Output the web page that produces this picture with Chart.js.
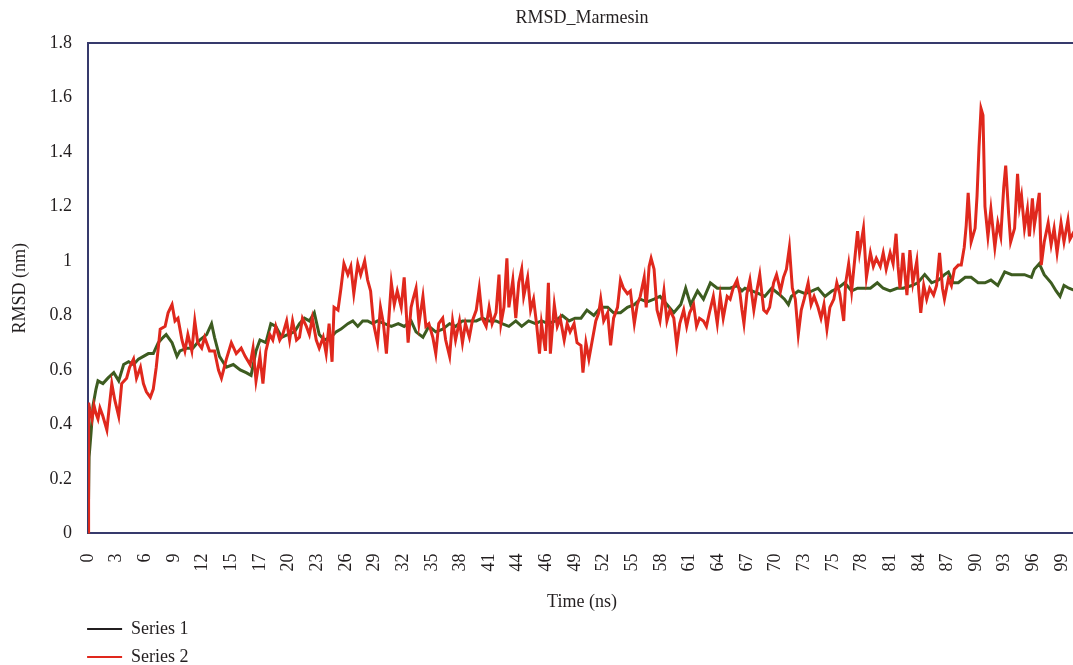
<!DOCTYPE html>
<html>
<head>
<meta charset="utf-8">
<script src="https://cdn.jsdelivr.net/npm/chart.js"></script>
<style>
  html, body { margin: 0; padding: 0; background: #fff; overflow: hidden; }
</style>
</head>
<body>
<canvas id="my-canvas" width="1104" height="676"></canvas>
<script>
// Tick labels of the time axis (one every 2.9 ns)
const tickLabels = ["0","3","6","9","12","15","17","20","23","26","29","32","35","38","41","44","46","49",
  "52","55","58","61","64","67","70","73","75","78","81","84","87","90","93","96","99"]

// Series 1 (green) - time in ns / RMSD in nm
const series1Time = [0,0.1,0.3,0.5,0.8,1.0,1.5,2.0,2.6,3.1,3.6,4.1,4.6,5.1,5.6,6.1,6.6,7.1,7.6,7.9,
  8.5,9.0,9.3,10.0,10.6,11.3,12.0,12.5,12.8,13.3,14.0,14.7,15.4,16.0,16.5,17.0,17.4,18.0,18.5,19.0,
  19.6,20.2,20.9,21.4,21.9,22.4,22.9,23.4,23.9,24.6,25.1,25.6,26.3,26.8,27.3,27.8,28.3,28.8,29.3,30.0,
  30.7,31.4,32.0,32.7,33.2,33.9,34.5,35.2,35.9,36.6,37.2,37.9,38.6,39.3,39.9,40.6,41.3,41.9,42.6,43.3,
  43.9,44.6,45.3,45.9,46.6,47.3,48.0,48.7,49.3,49.9,50.5,51.2,51.9,52.6,53.2,53.9,54.6,55.3,55.9,56.6,
  57.3,57.9,58.6,59.3,60.0,60.5,61.0,61.7,62.3,63.0,63.7,64.3,65.0,65.7,66.2,66.5,67.2,67.9,68.5,69.2,
  69.9,70.5,70.9,71.2,71.9,72.6,73.3,73.9,74.6,75.3,75.9,76.6,77.3,77.9,78.6,79.2,79.9,80.5,81.2,81.9,
  82.5,83.4,84.0,84.7,85.4,86.1,86.7,87.1,87.6,88.1,88.8,89.4,90.1,90.8,91.4,92.1,92.8,93.5,94.1,94.8,
  95.5,95.8,96.3,96.8,97.5,98.0,98.4,98.8,99.3,100]
const series1Rmsd = [0,0.28,0.37,0.47,0.53,0.56,0.55,0.57,0.59,0.56,0.62,0.63,0.62,0.64,0.65,0.66,0.66,0.70,0.72,0.73,
  0.70,0.65,0.67,0.68,0.68,0.71,0.73,0.77,0.72,0.65,0.61,0.62,0.60,0.59,0.58,0.67,0.71,0.70,0.77,0.76,
  0.72,0.73,0.74,0.77,0.79,0.78,0.81,0.73,0.71,0.72,0.74,0.75,0.77,0.78,0.76,0.78,0.78,0.77,0.78,0.77,
  0.76,0.77,0.76,0.78,0.74,0.72,0.76,0.74,0.75,0.77,0.76,0.78,0.78,0.78,0.79,0.78,0.78,0.77,0.76,0.78,
  0.76,0.78,0.77,0.78,0.77,0.78,0.80,0.78,0.79,0.79,0.82,0.80,0.83,0.83,0.81,0.81,0.83,0.84,0.86,0.85,
  0.86,0.87,0.84,0.81,0.84,0.90,0.84,0.89,0.86,0.92,0.90,0.90,0.90,0.91,0.89,0.90,0.89,0.88,0.87,0.90,
  0.88,0.86,0.84,0.87,0.89,0.88,0.89,0.90,0.87,0.89,0.90,0.92,0.89,0.90,0.90,0.90,0.92,0.90,0.89,0.90,
  0.90,0.91,0.92,0.95,0.92,0.93,0.95,0.96,0.92,0.92,0.94,0.94,0.92,0.92,0.93,0.91,0.96,0.95,0.95,0.95,
  0.94,0.97,0.99,0.95,0.92,0.89,0.87,0.91,0.90,0.89]

// Series 2 (red)
const series2Time = [0,0.05,0.2,0.4,0.6,0.8,1.0,1.2,1.5,1.9,2.1,2.4,2.7,3.1,3.4,3.9,4.2,4.6,4.9,5.3,
  5.6,5.9,6.3,6.6,6.9,7.3,7.8,8.1,8.5,8.8,9.1,9.5,9.8,10.1,10.5,10.8,11.1,11.5,11.8,12.3,
  12.8,13.2,13.5,14.0,14.5,15.0,15.5,15.9,16.4,16.7,17.0,17.4,17.7,18.0,18.4,18.7,19.0,19.4,19.7,20.1,
  20.4,20.7,21.1,21.4,21.7,22.1,22.4,22.7,23.1,23.4,23.8,24.1,24.4,24.7,24.9,25.3,25.6,25.9,26.3,26.6,
  26.9,27.3,27.6,28.0,28.3,28.6,28.9,29.3,29.6,29.9,30.2,30.7,31.0,31.3,31.7,32.0,32.4,32.7,32.9,33.2,
  33.5,33.9,34.2,34.5,34.9,35.2,35.5,35.9,36.2,36.6,36.9,37.2,37.6,37.9,38.2,38.6,38.9,39.3,39.6,39.9,
  40.3,40.6,40.9,41.3,41.6,41.8,42.1,42.4,42.6,43.0,43.3,43.6,43.9,44.1,44.5,44.8,45.1,45.4,45.7,45.9,
  46.3,46.6,46.8,47.2,47.5,47.8,48.2,48.5,48.8,49.2,49.5,49.9,50.1,50.4,50.7,51.0,51.4,51.7,51.9,52.2,
  52.6,52.9,53.2,53.6,53.9,54.2,54.6,54.9,55.3,55.6,55.9,56.3,56.5,56.8,57.0,57.3,57.6,57.9,58.3,58.6,
  58.9,59.3,59.6,59.9,60.3,60.6,60.9,61.3,61.6,61.9,62.3,62.6,62.9,63.3,63.7,64.0,64.3,64.7,65.0,65.3,
  65.7,66.0,66.2,66.4,66.7,67.0,67.4,67.7,68.0,68.4,68.7,69.0,69.4,69.7,70.1,70.4,70.7,71.0,71.3,71.6,
  71.9,72.2,72.5,72.9,73.2,73.5,73.9,74.2,74.5,74.8,75.1,75.5,75.8,76.1,76.5,76.7,77.0,77.3,77.6,77.9,
  78.1,78.5,78.8,79.2,79.5,79.8,80.2,80.5,80.8,81.2,81.5,81.8,82.0,82.2,82.5,82.9,83.2,83.5,83.9,84.1,
  84.3,84.6,84.9,85.2,85.6,85.9,86.2,86.5,86.7,87.1,87.4,87.7,88.1,88.4,88.7,88.9,89.1,89.4,89.8,90.0,
  90.2,90.4,90.6,90.8,91.1,91.4,91.8,92.1,92.4,92.7,92.9,93.2,93.4,93.8,94.1,94.3,94.5,94.8,95.1,95.3,
  95.6,95.8,96.1,96.3,96.5,96.8,97.2,97.5,97.8,98.1,98.5,98.8,99.2,99.4,100]
const series2Rmsd = [0,0.48,0.45,0.42,0.47,0.44,0.42,0.46,0.43,0.38,0.45,0.55,0.49,0.43,0.55,0.57,0.61,0.64,0.57,0.61,
  0.55,0.52,0.50,0.53,0.61,0.75,0.76,0.81,0.84,0.78,0.79,0.71,0.67,0.73,0.67,0.78,0.70,0.68,0.72,0.67,
  0.67,0.60,0.57,0.64,0.70,0.66,0.68,0.65,0.62,0.68,0.56,0.65,0.55,0.67,0.73,0.71,0.76,0.71,0.73,0.78,
  0.71,0.78,0.71,0.72,0.79,0.76,0.73,0.79,0.71,0.68,0.72,0.66,0.77,0.63,0.83,0.82,0.90,0.99,0.95,0.98,
  0.88,0.99,0.95,1.00,0.93,0.89,0.77,0.70,0.83,0.77,0.66,0.92,0.84,0.89,0.83,0.94,0.70,0.83,0.86,0.90,
  0.77,0.87,0.76,0.77,0.72,0.66,0.77,0.79,0.71,0.65,0.78,0.71,0.78,0.70,0.77,0.72,0.78,0.82,0.90,0.79,
  0.76,0.83,0.77,0.81,0.95,0.77,0.83,1.01,0.83,0.93,0.79,0.92,0.97,0.87,0.94,0.82,0.86,0.77,0.66,0.77,
  0.67,0.92,0.66,0.84,0.76,0.79,0.71,0.77,0.74,0.77,0.70,0.69,0.59,0.70,0.64,0.70,0.78,0.81,0.86,0.78,
  0.81,0.69,0.79,0.83,0.93,0.90,0.88,0.89,0.77,0.84,0.87,0.94,0.83,0.98,1.01,0.97,0.82,0.78,0.89,0.78,
  0.82,0.79,0.69,0.77,0.82,0.76,0.81,0.84,0.76,0.79,0.78,0.76,0.81,0.87,0.77,0.87,0.79,0.87,0.86,0.90,
  0.93,0.88,0.82,0.77,0.88,0.93,0.82,0.89,0.95,0.82,0.81,0.83,0.92,0.95,0.89,0.94,0.97,1.05,0.90,0.86,
  0.73,0.82,0.86,0.92,0.84,0.87,0.83,0.79,0.84,0.75,0.83,0.86,0.92,0.88,0.78,0.92,0.99,0.89,1.00,1.11,
  1.03,1.12,0.94,1.03,0.98,1.01,0.98,1.03,0.97,1.03,0.99,1.10,0.98,0.90,1.03,0.875,1.04,0.92,1.00,0.89,
  0.81,0.91,0.86,0.90,0.875,0.91,1.03,0.90,0.86,0.935,0.91,0.97,0.985,0.985,1.05,1.13,1.25,1.07,1.12,1.24,
  1.42,1.56,1.535,1.20,1.09,1.19,1.05,1.14,1.09,1.27,1.35,1.17,1.07,1.12,1.32,1.20,1.24,1.12,1.19,1.09,
  1.23,1.13,1.20,1.25,0.985,1.07,1.14,1.06,1.12,1.03,1.14,1.07,1.15,1.08,1.12]

const seriesNames = ["Series 1", "Series 2"]
const lineColors = ["#3d5c20", "#e0281d"]
const legendColors = ["#231f20", "#e0281d"]
const axisColor = "#363a6c"
const tickStep = 2.9

Chart.defaults.font.family = "'Liberation Serif', 'Times New Roman', serif"
Chart.defaults.font.size = 18
Chart.defaults.color = "#231f20"

function toPoints(times, values) {
  return times.map((t, i) => ({ x: t, y: values[i] }))
}

// move the legend so it lines up with the plot's left edge
const legendShift = {
  id: 'legendShift',
  afterLayout(chart) {
    chart.legend.left -= 11
    chart.legend.right -= 11
  }
}

function rmsdChart(canvas) {
  const ctx = canvas.getContext('2d')
  const data = {
    datasets: [
      {
        label: seriesNames[0],
        data: toPoints(series1Time, series1Rmsd),
        borderColor: lineColors[0],
        backgroundColor: lineColors[0],
        borderWidth: 3,
        pointRadius: 0,
        tension: 0,
        order: 1
      },
      {
        label: seriesNames[1],
        data: toPoints(series2Time, series2Rmsd),
        borderColor: lineColors[1],
        backgroundColor: lineColors[1],
        borderWidth: 3,
        pointRadius: 0,
        tension: 0,
        order: 0
      }
    ]
  }
  const options = {
    responsive: false,
    animation: false,
    layout: { padding: { left: 5, top: 1.5, right: 0, bottom: 0 } },
    plugins: {
      title: {
        display: true,
        text: 'RMSD_Marmesin',
        fullSize: false,
        color: "#231f20",
        font: { size: 18, weight: 'normal' },
        padding: { top: 6, bottom: 14 }
      },
      legend: {
        position: 'bottom',
        align: 'start',
        fullSize: false,
        labels: {
          boxWidth: 35,
          boxHeight: 2,
          padding: 10,
          font: { size: 18 },
          // trailing spaces push each entry on its own row
          generateLabels: (chart) => chart.data.datasets.map((ds, i) => ({
            text: ds.label + ' '.repeat(260),
            fillStyle: legendColors[i],
            strokeStyle: legendColors[i],
            lineWidth: 0,
            fontColor: "#231f20",
            hidden: false,
            datasetIndex: i
          }))
        }
      },
      tooltip: { enabled: false }
    },
    scales: {
      x: {
        type: 'linear',
        min: 0,
        max: 100,
        afterBuildTicks: (axis) => {
          axis.ticks = tickLabels.map((l, i) => ({ value: i * tickStep }))
        },
        ticks: {
          autoSkip: false,
          minRotation: 90,
          maxRotation: 90,
          padding: 20,
          callback: (value, index) => tickLabels[index]
        },
        grid: { display: false, drawTicks: false },
        border: { color: axisColor, width: 2 },
        title: { display: true, text: 'Time (ns)', padding: { top: 0, bottom: -3 } }
      },
      xTop: {
        type: 'linear',
        position: 'top',
        min: 0,
        max: 100,
        ticks: { display: false },
        grid: { display: false, drawTicks: false },
        border: { color: axisColor, width: 2 }
      },
      y: {
        min: 0,
        max: 1.8,
        ticks: {
          stepSize: 0.2,
          padding: 16,
          callback: (value) => String(Math.round(value * 10) / 10)
        },
        grid: { display: false, drawTicks: false },
        border: { color: axisColor, width: 2 },
        title: { display: true, text: 'RMSD (nm)', padding: { top: 4, bottom: 3 } }
      }
    }
  }

  return new Chart(ctx, {
    type: 'line',
    data: data,
    options: options,
    plugins: [legendShift]
  })
}

rmsdChart(document.getElementById('my-canvas'))
</script>
</body>
</html>
